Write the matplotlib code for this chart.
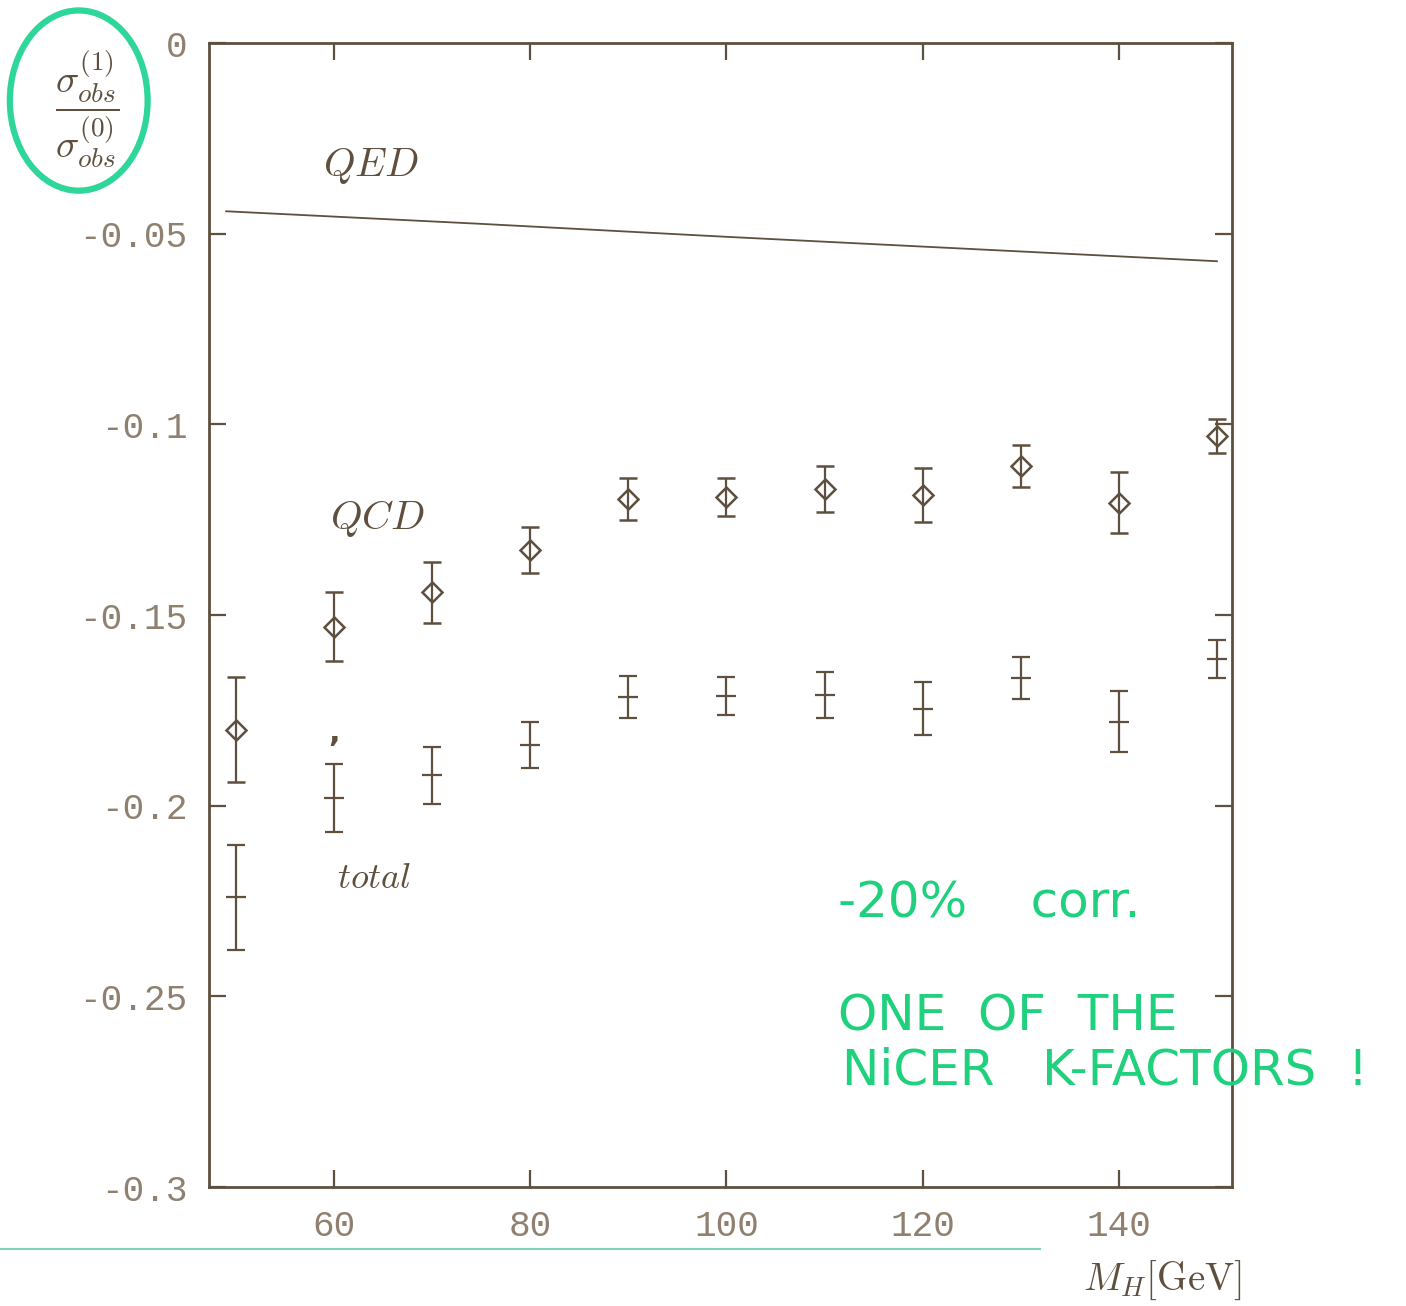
"""
Observable cross section corrections vs Higgs mass
QED / QCD / total ratio sigma^(1)/sigma^(0), with handwritten notes
"""

import matplotlib
matplotlib.use('Agg')
import matplotlib.pyplot as plt
import matplotlib.patches as patches

# data
mh = [50, 60, 70, 80, 90, 100, 110, 120, 130, 140, 150]
qcd = [-0.180, -0.153, -0.144, -0.133, -0.1195, -0.119, -0.117, -0.1185, -0.111, -0.1205, -0.103]
qcd_err = [0.0137, 0.009, 0.008, 0.006, 0.0055, 0.005, 0.006, 0.007, 0.0055, 0.008, 0.0045]
total = [-0.224, -0.198, -0.192, -0.184, -0.1715, -0.1713, -0.171, -0.1745, -0.1665, -0.178, -0.1615]
total_err = [0.0137, 0.009, 0.0075, 0.006, 0.0055, 0.005, 0.006, 0.007, 0.0055, 0.008, 0.005]

qed_mh = [49, 75, 100, 125, 150]
qed = [-0.0441, -0.0474, -0.0508, -0.0540, -0.0572]

xticks = [60, 80, 100, 120, 140]
yticks = [0, -0.05, -0.1, -0.15, -0.2, -0.25, -0.3]
ytick_labels = ['0', '-0.05', '-0.1', '-0.15', '-0.2', '-0.25', '-0.3']

ink = '#5e4f3e'
label_ink = '#8f806f'
green = '#1fd07c'

plt.rcParams['mathtext.fontset'] = 'cm'

fig = plt.figure(figsize=(14.06, 13.06), dpi=100)
ax = fig.add_axes([0.149, 0.091, 0.727, 0.876])

# QED line
ax.plot(qed_mh, qed, color=ink, linewidth=1.3)

# QCD points: open diamonds with error bars
ax.errorbar(mh, qcd, yerr=qcd_err, fmt='D', markersize=10, markerfacecolor='none',
            markeredgecolor=ink, markeredgewidth=1.8, color=ink, elinewidth=1.6,
            capsize=6.5, capthick=1.6)

# total: error bars with a small centre dash
ax.errorbar(mh, total, yerr=total_err, fmt='_', markersize=15, markeredgewidth=1.6,
            color=ink, elinewidth=1.6, capsize=6.5, capthick=1.6)

ax.set_xlim(47.3, 151.5)
ax.set_ylim(-0.3, 0.0)
ax.set_xticks(xticks)
ax.set_yticks(yticks)
ax.set_yticklabels(ytick_labels)

for s in ax.spines.values():
    s.set_color(ink)
    s.set_linewidth(2.0)

ax.tick_params(direction='in', length=12, width=1.6, color=ink,
               top=True, right=True, labelcolor=label_ink)
ax.tick_params(axis='y', pad=16)
ax.tick_params(axis='x', pad=16)
for lab in ax.get_xticklabels() + ax.get_yticklabels():
    lab.set_fontfamily('Liberation Mono')
    lab.set_fontsize(26)

# curve labels
ax.text(63.8, -0.0323, r'$QED$', color=ink, fontsize=29, ha='center', va='center')
ax.text(64.4, -0.1247, r'$QCD$', color=ink, fontsize=29, ha='center', va='center')
ax.text(64.1, -0.219, r'$total$', color=ink, fontsize=26, ha='center', va='center')
ax.text(60.0, -0.181, ',', color=ink, fontsize=22, ha='center', va='center', fontweight='bold')

# axis titles
fig.text(0.062, 0.917, r'$\dfrac{\sigma^{(1)}_{obs}}{\sigma^{(0)}_{obs}}$',
         color=ink, fontsize=28, ha='center', va='center')
fig.text(0.827, 0.020, r'$M_H\mathrm{[GeV]}$', color=ink, fontsize=28,
         ha='center', va='center')

# handwritten notes in green
circle = patches.Ellipse((0.056, 0.923), 0.098, 0.138, transform=fig.transFigure,
                         fill=False, edgecolor='#2fd69a', linewidth=4.5)
fig.add_artist(circle)
note_kw = dict(color=green, fontsize=36, ha='left', va='center')
fig.text(0.596, 0.308, '-20%    corr.', **note_kw)
fig.text(0.596, 0.222, 'ONE  OF  THE', **note_kw)
fig.text(0.599, 0.180, 'NiCER   K-FACTORS  !', **note_kw)
fig.add_artist(plt.Line2D([0.0, 0.74], [0.044, 0.044], transform=fig.transFigure,
                          color='#7fd4b8', linewidth=1.5))

fig.savefig('out.png', dpi=100)
